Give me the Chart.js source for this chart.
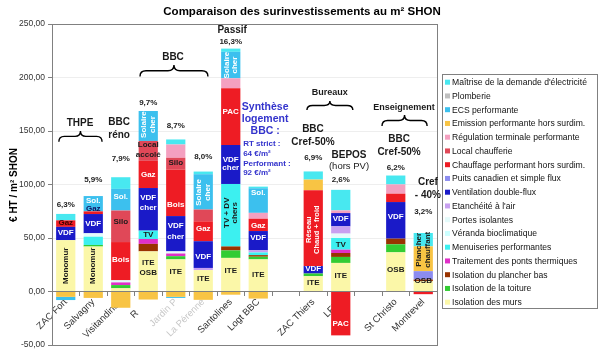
<!DOCTYPE html>
<html>
<head>
<meta charset="utf-8">
<script src="https://cdn.jsdelivr.net/npm/chart.js@4.4.0/dist/chart.umd.min.js"></script>
<style>
  html, body { margin: 0; padding: 0; background: #fff; }
  #wrap { width: 600px; height: 354px; }
</style>
</head>
<body>
<div id="wrap"><canvas id="chart" width="600" height="354"></canvas></div>
<script>
// categories (two blank slots separate the groups)
const categories = ['ZAC Fort', 'Salvagny', 'Visitandines', 'R      ', 'Jardin P', 'La Pérenne', 'Santolines', 'Logt BBC', '', 'ZAC Thiers', 'LFI   ', '', 'St Christo', 'Montrevel'];

// series values, € HT / m² SHON (stacking order, bottom first)
const isolationMurs   = [48, 42, 3, 37.5, 30, 20, 31.4, 30, null, 14.3, 26.7, null, 36.6, 9.6];
const isolationToit   = [0, 1.5, 3, 0, 3, 0, 7, 2.5, null, 2.5, 5.6, null, 7.5, 0];
const plancherBas     = [0, 0, 0, 7, 0, 0, 3.7, 1.5, null, 0, 3.7, null, 5.3, 1.6];
const pontsThermiques = [0, 0, 2.5, 4.6, 2.5, 0, 0, 0, null, 0, 3.1, null, 0, 0];
const menuiseries     = [0, 7.7, 0, 7.8, 0, 0, 58.4, 2.5, null, 0, 10.9, null, 0, 0];
const veranda         = [0, 0, 0, 0, 0, 0, 0, 0, null, 0, 0, null, 0, 0];
const portes          = [0, 3.2, 2, 0, 2, 0, 0, 0, null, 0, 4.1, null, 0, 0];
const etancheite      = [0, 0, 0, 0, 0, 2, 0, 2, null, 0, 6.8, null, 0, 0];
const ventilationDF   = [12.4, 18, 0, 39.8, 33, 25, 36.4, 18, null, 7, 12.4, null, 34.2, 0];
const puitsCanadien   = [0, 0, 0, 0, 0, 0, 0, 0, null, 0, 0, null, 0, 7.8];
const chauffage       = [6.1, 2.5, 35.7, 25.4, 43.5, 18.6, 53, 11.5, null, 70.8, -41, null, 7.8, -2.5];
const localChaufferie = [0, 0, 29.5, 18.6, 11, 11, 0, 0, null, 0, 0, null, 0, 0];
const regulation      = [0, 0, 0, 0, 12.4, 0, 9.4, 5.5, null, 0, 2.5, null, 8.7, 0];
const emission        = [-5, -6, -15.2, -7.5, -5, -7.8, -3, -6.6, null, 10, 0, null, 0, 23.2];
const ecs             = [-3, 14.3, 20.2, 28, -1, 33, 24.7, 23, null, 0, 0, null, 0, 0];
const plomberie       = [0, 0, 0, 0, 0, 0, 0, 0, null, 0, 0, null, 0, 0];
const maitriseElec    = [6, 0, 10.9, 0, 4.7, 2.5, 3, 1.5, null, 7.6, 19.2, null, 8.3, 12.5];

// percentage labels above bars
const percentLabels = ['6,3%', '5,9%', '7,9%', '9,7%', '8,7%', '8,0%', '16,3%', '', '', '6,9%', '2,6%', '', '6,2%', '3,2%'];
const percentLevels = [81, 104, 124, 176, 155, 126, 233, null, null, 125, 104, null, 115.5, 74.5];

// y ticks
const yMin = -50, yMax = 250, yStep = 50;

const FONT = '"Liberation Sans", Arial, sans-serif';

const series = [
  ['Isolation des murs', isolationMurs, '#FBF7A8'],
  ['Isolation de la toiture', isolationToit, '#33CC33'],
  ['Isolation du plancher bas', plancherBas, '#993300'],
  ['Traitement des ponts thermiques', pontsThermiques, '#E030C8'],
  ['Menuiseries performantes', menuiseries, '#3CF0F0'],
  ['Véranda bioclimatique', veranda, '#CCFFFF'],
  ['Portes isolantes', portes, '#E4FBFB'],
  ["Etanchéité à l'air", etancheite, '#C8A0F0'],
  ['Ventilation double-flux', ventilationDF, '#1A1AC8'],
  ['Puits canadien et simple flux', puitsCanadien, '#8C8CF0'],
  ['Chauffage performant hors surdim.', chauffage, '#EE1C24'],
  ['Local chaufferie', localChaufferie, '#E04858'],
  ['Régulation terminale performante', regulation, '#F4A0C0'],
  ['Emission performante hors surdim.', emission, '#F8C444'],
  ['ECS performante', ecs, '#3CC0EE'],
  ['Plomberie', plomberie, '#BFBFBF'],
  ["Maîtrise de la demande d'électricité", maitriseElec, '#48E8F0']
];

// text placed on / around the bars: [category index, value, text, colour, size, bold, rotated]
const W = '#fff', D = '#1a1a1a', B = '#3333CC';
const notes = [
  [0, 64, 'Gaz', '#3a0000', 8, true], [0, 54.5, 'VDF', W, 8, true], [0, 24, 'Monomur', D, 8, true, true],
  [1, 85, 'Sol.', W, 8, true], [1, 77, 'Gaz', '#101060', 8, true], [1, 63.5, 'VDF', W, 8, true], [1, 24, 'Monomur', D, 8, true, true],
  [2, 88.8, 'Sol.', W, 8, true], [2, 65.5, 'Silo', D, 8, true], [2, 29.8, 'Bois', W, 8, true],
  [3, 156, ['Solaire', 'cher'], W, 8, true, true], [3, 137, 'Local', D, 8, true], [3, 127.7, 'accolé', D, 8, true],
  [3, 109, 'Gaz', W, 8, true], [3, 87.3, 'VDF', W, 8, true], [3, 78, 'cher', W, 8, true], [3, 53, 'TV', D, 8, true],
  [3, 26.7, 'ITE', D, 8, true], [3, 17.4, 'OSB', D, 8, true],
  [4, 120, 'Silo', D, 8, true], [4, 81, 'Bois', W, 8, true], [4, 61, 'VDF', W, 8, true], [4, 51.5, 'cher', W, 8, true], [4, 18, 'ITE', D, 8, true],
  [5, 92.6, ['Solaire', 'cher'], W, 8, true, true], [5, 58.5, 'Gaz', W, 8, true], [5, 32.6, 'VDF', W, 8, true], [5, 11.8, 'ITE', D, 8, true],
  [6, 211.6, ['Solaire', 'cher'], W, 8, true, true], [6, 168, 'PAC', W, 8, true], [6, 123, 'VDF', W, 8, true], [6, 115.5, 'cher', W, 8, true],
  [6, 73.6, ['TV + DV', 'chers'], D, 8, true, true], [6, 19, 'ITE', D, 8, true],
  [7, 92, 'Sol.', W, 8, true], [7, 61.5, 'Gaz', W, 8, true], [7, 50, 'VDF', W, 8, true], [7, 15.8, 'ITE', D, 8, true],
  [9, 57.8, ['Réseau', 'Chaud + froid'], W, 7.5, true, true], [9, 21, 'VDF', W, 8, true], [9, 8, 'ITE', D, 8, true],
  [10, 67.7, 'VDF', W, 8, true], [10, 43.8, 'TV', D, 8, true], [10, 14.3, 'ITE', D, 8, true], [10, -29.8, 'PAC', W, 8, true],
  [12, 70, 'VDF', W, 8, true], [12, 20.5, 'OSB', D, 8, true],
  [13, 39, ['Plancher', 'chauffant'], D, 8, true, true], [13, 9.6, 'OSB', D, 8, true],
  // group headings
  [0.52, 157.5, 'THPE', D, 10, true], [1.94, 158, 'BBC', D, 10, true], [1.94, 146, 'réno', D, 10, true],
  [3.9, 219, 'BBC', D, 10, true], [6.05, 244, 'Passif', D, 10, true],
  [7.25, 172.4, 'Synthèse', B, 10.5, true], [7.25, 161.2, 'logement', B, 10.5, true], [7.25, 150, 'BBC :', B, 10.5, true],
  [9.6, 186.4, 'Bureaux', D, 9, true], [8.99, 152, 'BBC', D, 10, true], [8.99, 139.8, 'Cref-50%', D, 10, true],
  [10.3, 127.7, 'BEPOS', D, 10, true], [10.3, 116.5, '(hors PV)', D, 9.5, false],
  [12.3, 172.4, 'Enseignement', D, 9, true], [12.12, 142.6, 'BBC', D, 10, true], [12.12, 130.5, 'Cref-50%', D, 10, true],
  [13.17, 102.5, 'Cref', D, 10, true], [13.17, 90.4, '- 40%', D, 10, true]
];
// left aligned blue note
const syntheseNote = ['RT strict :', '64 €/m²', 'Performant :', '92 €/m²'];
const syntheseLevels = [138, 129, 119.8, 111];

// braces: [from index, to index, top value, bottom value]
const braces = [[-0.25, 1.32, 150, 140], [2.7, 5.17, 211.6, 201], [8.77, 10.44, 178, 169.6], [11.5, 13.14, 165, 154.7]];

function drawBrace(ctx, x1, x2, yTop, yBot) {
  const xc = (x1 + x2) / 2, ym = (yTop + yBot) / 2, r = Math.min(6, (x2 - x1) / 8);
  ctx.beginPath();
  ctx.moveTo(x1, yBot);
  ctx.quadraticCurveTo(x1, ym, x1 + r, ym);
  ctx.lineTo(xc - r, ym);
  ctx.quadraticCurveTo(xc, ym, xc, yTop);
  ctx.quadraticCurveTo(xc, ym, xc + r, ym);
  ctx.lineTo(x2 - r, ym);
  ctx.quadraticCurveTo(x2, ym, x2, yBot);
  ctx.stroke();
}

const decorPlugin = {
  id: 'decor',
  afterDatasetsDraw(chart) {
    const ctx = chart.ctx, xs = chart.scales.x, ys = chart.scales.y, area = chart.chartArea;
    ctx.save();
    // plot frame
    ctx.strokeStyle = '#808080';
    ctx.lineWidth = 1;
    ctx.strokeRect(area.left + 0.5, area.top + 0.5, area.right - area.left, area.bottom - area.top);

    ctx.textAlign = 'center';
    ctx.textBaseline = 'middle';
    // title
    ctx.fillStyle = '#000';
    ctx.font = 'bold 11.5px ' + FONT;
    ctx.fillText('Comparaison des surinvestissements au m² SHON', 302, 12);
    // y title
    ctx.save();
    ctx.translate(14, 185);
    ctx.rotate(-Math.PI / 2);
    ctx.font = 'bold 10px ' + FONT;
    ctx.fillText('€ HT / m² SHON', 0, 0);
    ctx.restore();

    // percentages
    ctx.font = 'bold 8px ' + FONT;
    ctx.fillStyle = '#222';
    percentLabels.forEach((t, i) => {
      if (t) ctx.fillText(t, xs.getPixelForValue(i), ys.getPixelForValue(percentLevels[i]));
    });

    // notes
    notes.forEach(([i, v, t, col, size, bold, rot]) => {
      const x = xs.getPixelForValue(i), y = ys.getPixelForValue(v);
      ctx.font = (bold ? 'bold ' : '') + size + 'px ' + FONT;
      ctx.fillStyle = col;
      const lines = Array.isArray(t) ? t : [t];
      const lh = size + 0.5;
      ctx.save();
      ctx.translate(x, y);
      if (rot) ctx.rotate(-Math.PI / 2);
      lines.forEach((l, k) => {
        const off = (k - (lines.length - 1) / 2) * lh;
        ctx.fillText(l, 0, off);
      });
      ctx.restore();
    });

    // blue synthesis note
    ctx.textAlign = 'left';
    ctx.font = 'bold 8px ' + FONT;
    ctx.fillStyle = B;
    syntheseNote.forEach((t, k) => ctx.fillText(t, xs.getPixelForValue(6.45), ys.getPixelForValue(syntheseLevels[k])));

    // braces
    ctx.strokeStyle = '#000';
    ctx.lineWidth = 1.4;
    braces.forEach(([a, b, top, bot]) => drawBrace(ctx, xs.getPixelForValue(a), xs.getPixelForValue(b), ys.getPixelForValue(top), ys.getPixelForValue(bot)));

    // legend
    const lx = 442, ly = 74, lw = 155, lh = 234, step = 13.75;
    ctx.strokeStyle = '#808080';
    ctx.lineWidth = 1;
    ctx.strokeRect(lx + 0.5, ly + 0.5, lw, lh);
    ctx.font = '8.6px ' + FONT;
    ctx.textBaseline = 'middle';
    const ds = chart.data.datasets.slice().reverse();
    ds.forEach((d, k) => {
      const y = 82.7 + k * step;
      ctx.fillStyle = d.backgroundColor;
      ctx.fillRect(445, y - 3, 5, 5);
      ctx.fillStyle = '#111';
      ctx.fillText(d.label, 452, y);
    });
    ctx.restore();
  }
};

new Chart(document.getElementById('chart'), {
  type: 'bar',
  data: {
    labels: categories,
    datasets: series.map(([label, data, color]) => ({
      label, data, backgroundColor: color, borderWidth: 0,
      categoryPercentage: 1, barPercentage: 0.7
    }))
  },
  options: {
    responsive: false,
    animation: false,
    devicePixelRatio: 1,
    layout: { padding: { left: 0, top: 24, right: 163, bottom: 9 } },
    plugins: { legend: { display: false }, tooltip: { enabled: false } },
    scales: {
      x: {
        stacked: true,
        position: { y: 0 },
        offset: true,
        border: { color: '#808080' },
        grid: { drawOnChartArea: false, drawTicks: true, tickLength: 4, color: '#808080', offset: true },
        ticks: {
          autoSkip: false, minRotation: 45, maxRotation: 45, padding: 1,
          font: { size: 9.5, family: FONT },
          color: ctx => (ctx.index === 4 || ctx.index === 5) ? '#c8c8c8' : '#333'
        }
      },
      y: {
        stacked: true,
        min: yMin, max: yMax,
        border: { color: '#808080' },
        grid: { color: '#eeeeee', tickColor: '#808080', tickLength: 4 },
        ticks: {
          stepSize: yStep, padding: 3,
          font: { size: 8.5, family: FONT }, color: '#333',
          callback: v => v.toFixed(2).replace('.', ',')
        },
        afterFit: s => { s.width = 52; }
      }
    }
  },
  plugins: [decorPlugin]
});
</script>
</body>
</html>
